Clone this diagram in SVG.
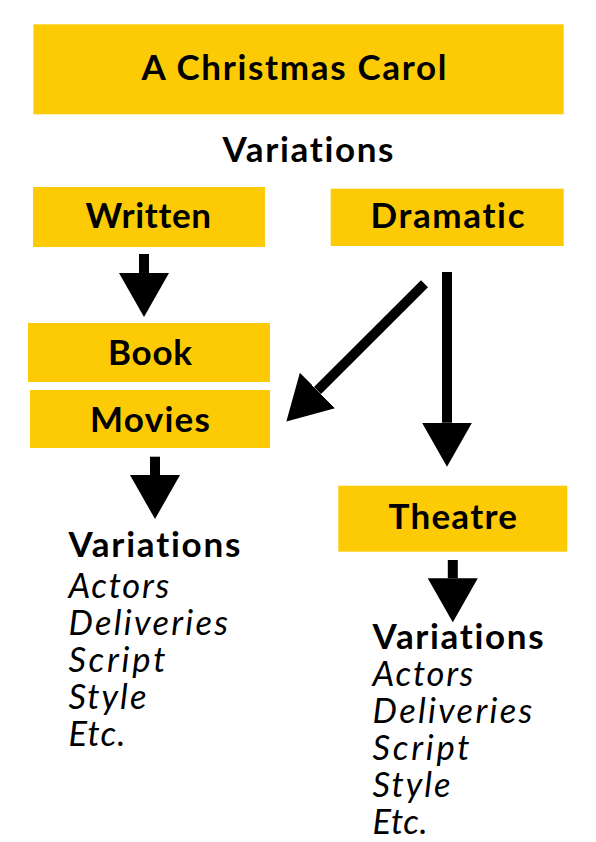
<svg xmlns="http://www.w3.org/2000/svg" width="596" height="842" viewBox="0 0 596 842">
<defs>
<style>
.box{fill:#FDCB06}
text{font-variant-ligatures:none;font-feature-settings:"liga" 0,"dlig" 0}
.lbl{font-family:Lato,"Open Sans","DejaVu Sans",sans-serif;font-weight:700;font-size:35px;fill:#000;text-anchor:middle}
.hd{font-family:Lato,"Open Sans","DejaVu Sans",sans-serif;font-weight:700;font-size:35px;fill:#000}
.it{font-family:Lato,"Open Sans","DejaVu Sans",sans-serif;font-style:italic;font-weight:400;font-size:34.5px;fill:#000}
.ln{stroke:#000;stroke-width:10;fill:none;marker-end:url(#ah)}
</style>
<marker id="ah" markerUnits="userSpaceOnUse" markerWidth="44" markerHeight="50" viewBox="0 0 44 50" refX="0" refY="25" orient="auto">
<path d="M0,0 L44,25 L0,50 Z" fill="#000"/>
</marker>
</defs>
<rect width="596" height="842" fill="#fff"/>
<g id="title">
<rect class="box" x="33.4" y="24.3" width="530.3" height="90"/>
<text class="lbl" x="294" y="80" textLength="305" lengthAdjust="spacing">A Christmas Carol</text>
</g>
<g id="variations-top">
<text class="lbl" x="308" y="161.5" textLength="171" lengthAdjust="spacing">Variations</text>
</g>
<g id="written">
<rect class="box" x="33" y="187" width="232" height="60"/>
<text class="lbl" x="148.3" y="228" textLength="125.5" lengthAdjust="spacing">Written</text>
</g>
<g id="dramatic">
<rect class="box" x="330.7" y="188.7" width="233" height="57.3"/>
<text class="lbl" x="447.5" y="228" textLength="154" lengthAdjust="spacing">Dramatic</text>
</g>
<g id="book">
<rect class="box" x="28" y="323" width="242" height="59"/>
<text class="lbl" x="150" y="365" textLength="84" lengthAdjust="spacing">Book</text>
</g>
<g id="movies">
<rect class="box" x="30" y="390" width="240" height="58"/>
<text class="lbl" x="150" y="431.5" textLength="120" lengthAdjust="spacing">Movies</text>
</g>
<g id="theatre">
<rect class="box" x="338.3" y="485.7" width="229" height="66"/>
<text class="lbl" x="452.7" y="529" textLength="128.5" lengthAdjust="spacing">Theatre</text>
</g>
<g id="movies-variations">
<text class="hd" x="68.4" y="556.7" textLength="172" lengthAdjust="spacing">Variations</text>
<text class="it" x="68.4" y="597.5" textLength="100.8" lengthAdjust="spacing">Actors</text>
<text class="it" x="68.4" y="634.5" textLength="159.7" lengthAdjust="spacing">Deliveries</text>
<text class="it" x="68.4" y="671.5" textLength="97" lengthAdjust="spacing">Script</text>
<text class="it" x="68.4" y="708.5" textLength="78" lengthAdjust="spacing">Style</text>
<text class="it" x="68.4" y="745.5" textLength="57" lengthAdjust="spacing">Etc.</text>
</g>
<g id="theatre-variations">
<text class="hd" x="372.6" y="649" textLength="171" lengthAdjust="spacing">Variations</text>
<text class="it" x="372.6" y="686" textLength="100.8" lengthAdjust="spacing">Actors</text>
<text class="it" x="372.6" y="723" textLength="159.7" lengthAdjust="spacing">Deliveries</text>
<text class="it" x="372.6" y="760" textLength="97" lengthAdjust="spacing">Script</text>
<text class="it" x="372.6" y="797" textLength="78" lengthAdjust="spacing">Style</text>
<text class="it" x="372.6" y="834" textLength="55" lengthAdjust="spacing">Etc.</text>
</g>
<g id="connectors">
<line class="ln" x1="144" y1="254" x2="144" y2="273"/>
<line class="ln" x1="424.5" y1="283.8" x2="317.5" y2="390.5"/>
<line class="ln" x1="447" y1="272" x2="447" y2="422.7"/>
<line class="ln" x1="155" y1="456.7" x2="155" y2="475"/>
<line class="ln" x1="452.8" y1="560" x2="452.8" y2="578.3"/>
</g>
</svg>
